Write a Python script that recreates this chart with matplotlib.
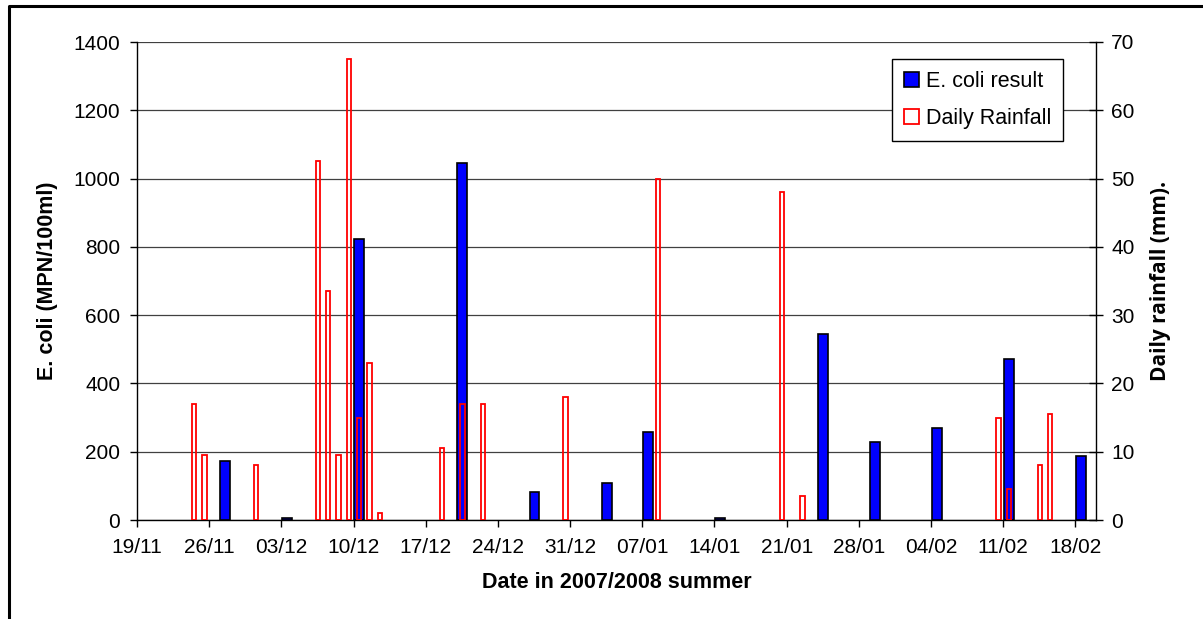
import numpy as np
import matplotlib
matplotlib.use('Agg')
import matplotlib.pyplot as plt
import matplotlib.dates as mdates
from matplotlib.lines import Line2D
import datetime as dt

plt.rcParams['font.family'] = ['Liberation Sans', 'DejaVu Sans']

# E. coli sampling results (MPN/100ml)
ecoli_dates = ['2007-11-27', '2007-12-03', '2007-12-10', '2007-12-20', '2007-12-27',
               '2008-01-03', '2008-01-07', '2008-01-14', '2008-01-24', '2008-01-29',
               '2008-02-04', '2008-02-11', '2008-02-18']
ecoli_values = [172, 5, 822, 1046, 83, 108, 259, 5, 545, 229, 269, 472, 187]

# daily rainfall (mm)
rain_dates = ['2007-11-24', '2007-11-25', '2007-11-30', '2007-12-06', '2007-12-07',
              '2007-12-08', '2007-12-09', '2007-12-10', '2007-12-11', '2007-12-12',
              '2007-12-18', '2007-12-20', '2007-12-22', '2007-12-30', '2008-01-08',
              '2008-01-20', '2008-01-22', '2008-02-10', '2008-02-11', '2008-02-14',
              '2008-02-15']
rain_values = [17, 9.5, 8, 52.5, 33.5, 9.5, 67.5, 15, 23, 1, 10.5, 17, 17, 18, 50,
               48, 3.5, 15, 4.5, 8, 15.5]

tick_dates = ['2007-11-19', '2007-11-26', '2007-12-03', '2007-12-10', '2007-12-17',
              '2007-12-24', '2007-12-31', '2008-01-07', '2008-01-14', '2008-01-21',
              '2008-01-28', '2008-02-04', '2008-02-11', '2008-02-18']


def to_num(dates):
       return np.array([mdates.date2num(dt.datetime.strptime(d, '%Y-%m-%d')) for d in dates])


fig = plt.figure(figsize=(12.03, 6.19), dpi=100)
ax = fig.add_axes([137/1203, 1-520/619, (1096-137)/1203, (520-42)/619])
ax2 = ax.twinx()

# bars sit in the middle of their day slot (Excel date axis)
ex = to_num(ecoli_dates) + 0.55
rx = to_num(rain_dates) + 0.55

ax.bar(ex, ecoli_values, width=0.95, color='#0000ff', edgecolor='black', linewidth=1.2,
       label='E. coli result', zorder=3)
ax2.bar(rx, rain_values, width=0.42, facecolor='none', edgecolor='#ff0000', linewidth=1.3,
        label='Daily Rainfall', zorder=3)

ax.set_ylim(0, 1400)
ax.set_yticks(np.arange(0, 1401, 200))
ax2.set_ylim(0, 70)
ax2.set_yticks(np.arange(0, 71, 10))
x0 = to_num(['2007-11-19'])[0]
ax.set_xlim(x0, x0 + 93)
ax.set_xticks(to_num(tick_dates))
ax.xaxis.set_major_formatter(mdates.DateFormatter('%d/%m'))

ax.grid(axis='y', color='#404040', linewidth=0.9, zorder=0)
ax.set_axisbelow(True)

for a in (ax, ax2):
       a.spines['top'].set_visible(False)
ax2.spines['left'].set_visible(False)
ax2.spines['bottom'].set_visible(False)
ax.spines['right'].set_visible(False)
for s in ('left', 'bottom'):
       ax.spines[s].set_linewidth(1.0)
ax2.spines['right'].set_linewidth(1.0)

ax.tick_params(axis='y', direction='out', length=5, width=1, pad=7, labelsize=15)
ax.tick_params(axis='x', direction='out', length=5, width=1, pad=8, labelsize=15)
ax2.tick_params(axis='y', direction='inout', length=10, width=1, pad=6, labelsize=15)

ax.set_ylabel('E. coli (MPN/100ml)', fontsize=15.5, fontweight='bold', labelpad=11)
ax2.set_ylabel('Daily rainfall (mm).', fontsize=15, fontweight='bold', labelpad=11,
               family=['Open Sans', 'DejaVu Sans'])
ax.set_xlabel('Date in 2007/2008 summer', fontsize=15.5, fontweight='bold', labelpad=11)

h1, l1 = ax.get_legend_handles_labels()
h2, l2 = ax2.get_legend_handles_labels()
leg = ax2.legend(h1 + h2, l1 + l2, loc='upper right', bbox_to_anchor=(1063/1203, 1-59/619),
                 bbox_transform=fig.transFigure, borderaxespad=0, fontsize=15.5,
                 frameon=True, fancybox=False, edgecolor='black', framealpha=1,
                 handlelength=0.7, handleheight=0.7, handletextpad=0.3,
                 labelspacing=0.75, borderpad=0.55)
leg.get_frame().set_linewidth(1.0)

# outer chart border (left and top edges visible)
fig.add_artist(Line2D([9/1203, 9/1203, 1.0], [0.0, 1-6/619, 1-6/619],
                      transform=fig.transFigure, color='black', linewidth=2.2))

fig.savefig('out.png', dpi=100)
